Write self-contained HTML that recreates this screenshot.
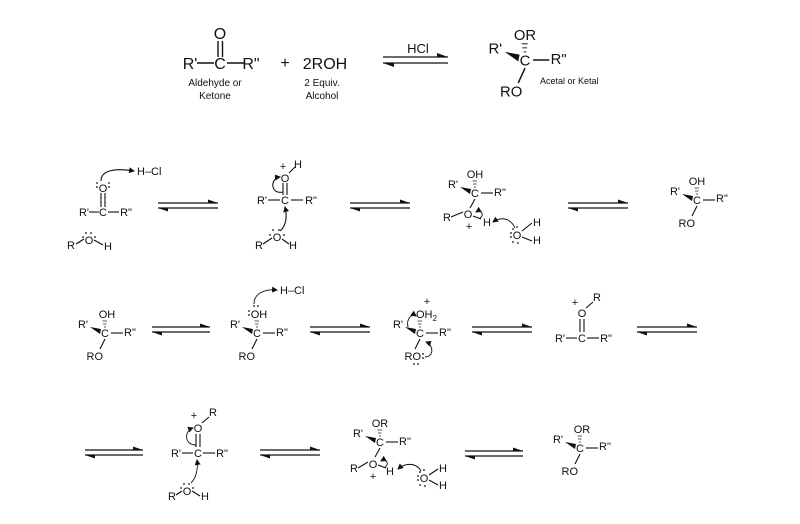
<!DOCTYPE html>
<html><head><meta charset="utf-8"><style>
html,body{margin:0;padding:0;background:#fff;}
svg{display:block;}
text{font-family:"Liberation Sans",sans-serif;fill:#111;}
</style></head><body>
<svg width="800" height="524" viewBox="0 0 800 524" xmlns="http://www.w3.org/2000/svg">
<defs>
<marker id="ah" markerWidth="6" markerHeight="6" refX="5" refY="3" orient="auto" markerUnits="userSpaceOnUse"><path d="M0,0 L6,3 L0,6 z" fill="#111"/></marker>
</defs>
<g stroke="#111" stroke-width="1.3" fill="none">
<line x1="383" y1="57" x2="448" y2="57"/><line x1="383" y1="63" x2="448" y2="63"/>
<line x1="158" y1="203" x2="218" y2="203"/><line x1="158" y1="208" x2="218" y2="208"/>
<line x1="350" y1="203" x2="410" y2="203"/><line x1="350" y1="208" x2="410" y2="208"/>
<line x1="568" y1="203" x2="628" y2="203"/><line x1="568" y1="208" x2="628" y2="208"/>
<line x1="152" y1="327" x2="210" y2="327"/><line x1="152" y1="332" x2="210" y2="332"/>
<line x1="310" y1="327" x2="370" y2="327"/><line x1="310" y1="332" x2="370" y2="332"/>
<line x1="472" y1="327" x2="532" y2="327"/><line x1="472" y1="332" x2="532" y2="332"/>
<line x1="637" y1="327" x2="697" y2="327"/><line x1="637" y1="332" x2="697" y2="332"/>
<line x1="85" y1="450" x2="143" y2="450"/><line x1="85" y1="455" x2="143" y2="455"/>
<line x1="260" y1="450" x2="320" y2="450"/><line x1="260" y1="455" x2="320" y2="455"/>
<line x1="465" y1="451" x2="523" y2="451"/><line x1="465" y1="456" x2="523" y2="456"/>
</g>
<g fill="#111">
<polygon points="448,57 437,57 437,53"/><polygon points="383,63 394,63 394,67"/>
<polygon points="218,203 208,203 208,199.5"/><polygon points="158,208 168,208 168,211.5"/>
<polygon points="410,203 400,203 400,199.5"/><polygon points="350,208 360,208 360,211.5"/>
<polygon points="628,203 618,203 618,199.5"/><polygon points="568,208 578,208 578,211.5"/>
<polygon points="210,327 200,327 200,323.5"/><polygon points="152,332 162,332 162,335.5"/>
<polygon points="370,327 360,327 360,323.5"/><polygon points="310,332 320,332 320,335.5"/>
<polygon points="532,327 522,327 522,323.5"/><polygon points="472,332 482,332 482,335.5"/>
<polygon points="697,327 687,327 687,323.5"/><polygon points="637,332 647,332 647,335.5"/>
<polygon points="143,450 133,450 133,446.5"/><polygon points="85,455 95,455 95,458.5"/>
<polygon points="320,450 310,450 310,446.5"/><polygon points="260,455 270,455 270,458.5"/>
<polygon points="523,451 513,451 513,447.5"/><polygon points="465,456 475,456 475,459.5"/>
</g>

<!-- Row 1 -->
<g font-size="16">
<text x="220" y="39" text-anchor="middle">O</text>
<text x="190" y="69" text-anchor="middle">R'</text>
<text x="220" y="69" text-anchor="middle">C</text>
<text x="251" y="69" text-anchor="middle">R"</text>
<text x="285" y="68" text-anchor="middle">+</text>
<text x="325" y="69" text-anchor="middle">2ROH</text>
<text x="418" y="53" text-anchor="middle" font-size="13">HCl</text>
</g>
<g stroke="#111" stroke-width="1.4">
<line x1="218" y1="41" x2="218" y2="57"/><line x1="222.5" y1="41" x2="222.5" y2="57"/>
<line x1="197" y1="63" x2="214" y2="63"/><line x1="227" y1="63" x2="244" y2="63"/>
</g>
<g font-size="10" text-anchor="middle">
<text x="215" y="86">Aldehyde or</text><text x="215" y="99">Ketone</text>
<text x="322" y="86">2 Equiv.</text><text x="322" y="99">Alcohol</text>
</g>
<g transform="translate(525,60) scale(1.35)">
<text x="0" y="4" text-anchor="middle" font-size="11">C</text>
<polygon points="-15,-6 -4,-4 -5,1" fill="#111"/>
<text x="-17" y="-5" text-anchor="end" font-size="11">R'</text>
<line x1="6" y1="0" x2="18" y2="0" stroke="#111" stroke-width="1.1"/>
<text x="19" y="3" font-size="11">R"</text>
<g stroke="#111" stroke-width="0.7"><line x1="-1" y1="-6" x2="1" y2="-6"/><line x1="-2" y1="-9" x2="1.5" y2="-9"/><line x1="-2.5" y1="-12" x2="2" y2="-12"/></g>
<text x="0" y="-15" text-anchor="middle" font-size="11">OR</text>
<line x1="0" y1="6" x2="-5" y2="17" stroke="#111" stroke-width="1.1"/>
<text x="-2" y="27" text-anchor="end" font-size="11">RO</text>
</g>
<text x="540" y="84" font-size="9">Acetal or Ketal</text>

<!-- Row 2 #1 -->
<g font-size="11">
<text x="103" y="192" text-anchor="middle">O</text>
<text x="103" y="216" text-anchor="middle">C</text>
<text x="84" y="216" text-anchor="middle">R'</text>
<text x="126" y="216" text-anchor="middle">R"</text>
<text x="137" y="175">H–Cl</text>
<text x="71" y="249" text-anchor="middle">R</text>
<text x="89" y="244" text-anchor="middle">O</text>
<text x="108" y="250" text-anchor="middle">H</text>
</g>
<g stroke="#111" stroke-width="1.1" fill="none">
<line x1="101" y1="193" x2="101" y2="207"/><line x1="105" y1="193" x2="105" y2="207"/>
<line x1="89" y1="212" x2="99" y2="212"/><line x1="108" y1="212" x2="119" y2="212"/>
<line x1="76" y1="244" x2="84" y2="239"/><line x1="94" y1="240" x2="103" y2="245"/>
<path d="M101,181 C101,170 115,168 134,171" marker-end="url(#ah)"/>
</g>
<g fill="#111">
<circle cx="97" cy="183" r="0.9"/><circle cx="97" cy="187" r="0.9"/><circle cx="109" cy="183" r="0.9"/><circle cx="109" cy="187" r="0.9"/>
<circle cx="86" cy="233" r="0.9"/><circle cx="91" cy="233" r="0.9"/><circle cx="83" cy="237" r="0.9"/><circle cx="95" cy="237" r="0.9"/>
</g>

<!-- Row 2 #2 -->
<g font-size="11">
<text x="285" y="182" text-anchor="middle">O</text>
<text x="283" y="170" text-anchor="middle">+</text>
<text x="298" y="168" text-anchor="middle">H</text>
<text x="285" y="204" text-anchor="middle">C</text>
<text x="262" y="204" text-anchor="middle">R'</text>
<text x="311" y="204" text-anchor="middle">R"</text>
<text x="259" y="249" text-anchor="middle">R</text>
<text x="277" y="241" text-anchor="middle">O</text>
<text x="293" y="249" text-anchor="middle">H</text>
</g>
<g stroke="#111" stroke-width="1.1" fill="none">
<line x1="283" y1="183" x2="283" y2="195"/><line x1="287" y1="183" x2="287" y2="195"/>
<line x1="268" y1="200" x2="280" y2="200"/><line x1="291" y1="200" x2="303" y2="200"/>
<line x1="289" y1="173" x2="295" y2="167"/>
<line x1="263" y1="244" x2="272" y2="238"/><line x1="282" y1="239" x2="289" y2="244"/>
<path d="M283,192 C270,195 270,178 280,177" marker-end="url(#ah)"/>
<path d="M280,231 C287,225 287,215 285,207" marker-end="url(#ah)"/>
</g>
<g fill="#111"><circle cx="273" cy="230" r="0.9"/><circle cx="279" cy="230" r="0.9"/><circle cx="270" cy="235" r="0.9"/><circle cx="284" cy="235" r="0.9"/></g>

<!-- Row2 #3 -->
<g transform="translate(475,193)" font-size="11">
<text x="0" y="4" text-anchor="middle">C</text>
<polygon points="-15,-6 -4,-4 -5,1" fill="#111"/>
<text x="-17" y="-5" text-anchor="end">R'</text>
<line x1="6" y1="0" x2="18" y2="0" stroke="#111" stroke-width="1.1"/>
<text x="19" y="3">R"</text>
<g stroke="#111" stroke-width="0.7"><line x1="-1" y1="-6" x2="1" y2="-6"/><line x1="-2" y1="-9" x2="1.5" y2="-9"/><line x1="-2.5" y1="-12" x2="2" y2="-12"/></g>
<text x="0" y="-15" text-anchor="middle">OH</text>
<line x1="0" y1="6" x2="-5" y2="15" stroke="#111" stroke-width="1.1"/>
<text x="-7" y="25" text-anchor="middle">O</text>
<text x="-28" y="28" text-anchor="middle">R</text>
<line x1="-24" y1="24" x2="-12" y2="19" stroke="#111" stroke-width="1.1"/>
<text x="-6" y="37" text-anchor="middle">+</text>
<line x1="-2" y1="23" x2="6" y2="26" stroke="#111" stroke-width="1.1"/>
<text x="12" y="33" text-anchor="middle">H</text>
<path d="M5,25 C10,22 6,16 1,19" stroke="#111" stroke-width="0.9" fill="none" marker-end="url(#ah)"/>
<text x="42" y="46" text-anchor="middle">O</text>
<text x="62" y="33" text-anchor="middle">H</text>
<text x="62" y="51" text-anchor="middle">H</text>
<line x1="47" y1="38" x2="57" y2="30" stroke="#111" stroke-width="1.1"/>
<line x1="47" y1="44" x2="57" y2="48" stroke="#111" stroke-width="1.1"/>
<path d="M40,35 C35,24 25,24 18,29" stroke="#111" stroke-width="0.9" fill="none" marker-end="url(#ah)"/>
<g fill="#111"><circle cx="38" cy="36" r="0.9"/><circle cx="42" cy="34" r="0.9"/><circle cx="36" cy="40" r="0.9"/><circle cx="36" cy="44" r="0.9"/><circle cx="38" cy="49" r="0.9"/><circle cx="43" cy="50" r="0.9"/></g>
</g>

<!-- Row2 #4 -->
<g transform="translate(697,200)" font-size="11">
<text x="0" y="4" text-anchor="middle">C</text>
<polygon points="-15,-6 -4,-4 -5,1" fill="#111"/>
<text x="-17" y="-5" text-anchor="end">R'</text>
<line x1="6" y1="0" x2="18" y2="0" stroke="#111" stroke-width="1.1"/>
<text x="19" y="2">R"</text>
<g stroke="#111" stroke-width="0.7"><line x1="-1" y1="-6" x2="1" y2="-6"/><line x1="-2" y1="-9" x2="1.5" y2="-9"/><line x1="-2.5" y1="-12" x2="2" y2="-12"/></g>
<text x="0" y="-15" text-anchor="middle">OH</text>
<line x1="0" y1="6" x2="-5" y2="16" stroke="#111" stroke-width="1.1"/>
<text x="-2" y="27" text-anchor="end">RO</text>
</g>

<!-- Row3 #1 -->
<g transform="translate(105,333)" font-size="11">
<text x="0" y="4" text-anchor="middle">C</text>
<polygon points="-15,-6 -4,-4 -5,1" fill="#111"/>
<text x="-17" y="-5" text-anchor="end">R'</text>
<line x1="6" y1="0" x2="18" y2="0" stroke="#111" stroke-width="1.1"/>
<text x="19" y="3">R"</text>
<g stroke="#111" stroke-width="0.7"><line x1="-1" y1="-6" x2="1" y2="-6"/><line x1="-2" y1="-9" x2="1.5" y2="-9"/><line x1="-2.5" y1="-12" x2="2" y2="-12"/></g>
<text x="2" y="-15" text-anchor="middle">OH</text>
<line x1="0" y1="6" x2="-5" y2="16" stroke="#111" stroke-width="1.1"/>
<text x="-2" y="27" text-anchor="end">RO</text>
</g>

<!-- Row3 #2 -->
<g transform="translate(257,333)" font-size="11">
<text x="0" y="4" text-anchor="middle">C</text>
<polygon points="-15,-6 -4,-4 -5,1" fill="#111"/>
<text x="-17" y="-5" text-anchor="end">R'</text>
<line x1="6" y1="0" x2="18" y2="0" stroke="#111" stroke-width="1.1"/>
<text x="19" y="3">R"</text>
<g stroke="#111" stroke-width="0.7"><line x1="-1" y1="-6" x2="1" y2="-6"/><line x1="-2" y1="-9" x2="1.5" y2="-9"/><line x1="-2.5" y1="-12" x2="2" y2="-12"/></g>
<text x="2" y="-15" text-anchor="middle">OH</text>
<g fill="#111"><circle cx="-8" cy="-22" r="0.9"/><circle cx="-8" cy="-18" r="0.9"/><circle cx="-3" cy="-27" r="0.9"/><circle cx="1" cy="-27" r="0.9"/></g>
<line x1="0" y1="6" x2="-5" y2="16" stroke="#111" stroke-width="1.1"/>
<text x="-2" y="27" text-anchor="end">RO</text>
<text x="23" y="-39">H–Cl</text>
<path d="M-3,-29 C-3,-40 8,-44 20,-43" stroke="#111" stroke-width="0.9" fill="none" marker-end="url(#ah)"/>
</g>

<!-- Row3 #3 -->
<g transform="translate(420,333)" font-size="11">
<text x="0" y="4" text-anchor="middle">C</text>
<polygon points="-15,-6 -4,-4 -5,1" fill="#111"/>
<text x="-17" y="-5" text-anchor="end">R'</text>
<line x1="6" y1="0" x2="18" y2="0" stroke="#111" stroke-width="1.1"/>
<text x="19" y="3">R"</text>
<g stroke="#111" stroke-width="0.7"><line x1="-1" y1="-6" x2="1" y2="-6"/><line x1="-2" y1="-9" x2="1.5" y2="-9"/><line x1="-2.5" y1="-12" x2="2" y2="-12"/></g>
<text x="-4" y="-15">OH<tspan font-size="8" dy="3">2</tspan></text>
<text x="7" y="-28" text-anchor="middle">+</text>
<path d="M-12,-6 C-14,-14 -8,-20 -4,-17" stroke="#111" stroke-width="0.9" fill="none" marker-end="url(#ah)"/>
<line x1="0" y1="6" x2="-5" y2="16" stroke="#111" stroke-width="1.1"/>
<text x="1" y="27" text-anchor="end">RO</text>
<g fill="#111"><circle cx="3" cy="21" r="0.9"/><circle cx="3" cy="25" r="0.9"/><circle cx="-6" cy="31" r="0.9"/><circle cx="-2" cy="31" r="0.9"/></g>
<path d="M5,24 C14,24 14,12 6,9" stroke="#111" stroke-width="0.9" fill="none" marker-end="url(#ah)"/>
</g>

<!-- Row3 #4 -->
<g transform="translate(582,338)" font-size="11">
<text x="0" y="4" text-anchor="middle">C</text>
<text x="-22" y="4" text-anchor="middle">R'</text>
<text x="24" y="4" text-anchor="middle">R"</text>
<line x1="-16" y1="0" x2="-5" y2="0" stroke="#111" stroke-width="1.1"/>
<line x1="5" y1="0" x2="17" y2="0" stroke="#111" stroke-width="1.1"/>
<text x="0" y="-21" text-anchor="middle">O</text>
<line x1="-2" y1="-19" x2="-2" y2="-6" stroke="#111" stroke-width="1.1"/><line x1="2" y1="-19" x2="2" y2="-6" stroke="#111" stroke-width="1.1"/>
<text x="-7" y="-32" text-anchor="middle">+</text>
<line x1="4" y1="-30" x2="11" y2="-36" stroke="#111" stroke-width="1.1"/>
<text x="15" y="-37" text-anchor="middle">R</text>
</g>

<!-- Row4 #1 -->
<g transform="translate(198,453)" font-size="11">
<text x="0" y="4" text-anchor="middle">C</text>
<text x="-22" y="4" text-anchor="middle">R'</text>
<text x="24" y="4" text-anchor="middle">R"</text>
<line x1="-16" y1="0" x2="-5" y2="0" stroke="#111" stroke-width="1.1"/>
<line x1="5" y1="0" x2="17" y2="0" stroke="#111" stroke-width="1.1"/>
<text x="0" y="-21" text-anchor="middle">O</text>
<line x1="-2" y1="-19" x2="-2" y2="-6" stroke="#111" stroke-width="1.1"/><line x1="2" y1="-19" x2="2" y2="-6" stroke="#111" stroke-width="1.1"/>
<text x="-4" y="-34" text-anchor="middle">+</text>
<line x1="4" y1="-30" x2="11" y2="-36" stroke="#111" stroke-width="1.1"/>
<text x="15" y="-37" text-anchor="middle">R</text>
<path d="M-2,-8 C-14,-8 -14,-22 -5,-25" stroke="#111" stroke-width="0.9" fill="none" marker-end="url(#ah)"/>
<text x="-11" y="42" text-anchor="middle">O</text>
<text x="-26" y="47" text-anchor="middle">R</text>
<text x="7" y="47" text-anchor="middle">H</text>
<line x1="-22" y1="42" x2="-16" y2="38" stroke="#111" stroke-width="1.1"/>
<line x1="-6" y1="38" x2="2" y2="43" stroke="#111" stroke-width="1.1"/>
<g fill="#111"><circle cx="-14" cy="31" r="0.9"/><circle cx="-9" cy="31" r="0.9"/><circle cx="-17" cy="35" r="0.9"/><circle cx="-5" cy="35" r="0.9"/></g>
<path d="M-7,30 C-1,24 0,14 -1,7" stroke="#111" stroke-width="0.9" fill="none" marker-end="url(#ah)"/>
</g>

<!-- Row4 #2 -->
<g transform="translate(380,442)" font-size="11">
<text x="0" y="4" text-anchor="middle">C</text>
<polygon points="-15,-6 -4,-4 -5,1" fill="#111"/>
<text x="-17" y="-5" text-anchor="end">R'</text>
<line x1="6" y1="0" x2="18" y2="0" stroke="#111" stroke-width="1.1"/>
<text x="19" y="3">R"</text>
<g stroke="#111" stroke-width="0.7"><line x1="-1" y1="-6" x2="1" y2="-6"/><line x1="-2" y1="-9" x2="1.5" y2="-9"/><line x1="-2.5" y1="-12" x2="2" y2="-12"/></g>
<text x="0" y="-15" text-anchor="middle">OR</text>
<line x1="0" y1="6" x2="-5" y2="15" stroke="#111" stroke-width="1.1"/>
<text x="-7" y="26" text-anchor="middle">O</text>
<text x="-26" y="30" text-anchor="middle">R</text>
<line x1="-22" y1="26" x2="-12" y2="20" stroke="#111" stroke-width="1.1"/>
<text x="-7" y="38" text-anchor="middle">+</text>
<line x1="-2" y1="23" x2="6" y2="26" stroke="#111" stroke-width="1.1"/>
<text x="10" y="33" text-anchor="middle">H</text>
<path d="M5,25 C10,22 6,16 1,19" stroke="#111" stroke-width="0.9" fill="none" marker-end="url(#ah)"/>
<text x="44" y="40" text-anchor="middle">O</text>
<text x="63" y="30" text-anchor="middle">H</text>
<text x="63" y="47" text-anchor="middle">H</text>
<line x1="49" y1="33" x2="58" y2="27" stroke="#111" stroke-width="1.1"/>
<line x1="49" y1="38" x2="58" y2="43" stroke="#111" stroke-width="1.1"/>
<path d="M41,29 C36,20 25,21 18,27" stroke="#111" stroke-width="0.9" fill="none" marker-end="url(#ah)"/>
<g fill="#111"><circle cx="40" cy="30" r="0.9"/><circle cx="44" cy="28" r="0.9"/><circle cx="38" cy="34" r="0.9"/><circle cx="38" cy="38" r="0.9"/><circle cx="40" cy="43" r="0.9"/><circle cx="45" cy="44" r="0.9"/></g>
</g>

<!-- Row4 #3 -->
<g transform="translate(580,448)" font-size="11">
<text x="0" y="4" text-anchor="middle">C</text>
<polygon points="-15,-6 -4,-4 -5,1" fill="#111"/>
<text x="-17" y="-5" text-anchor="end">R'</text>
<line x1="6" y1="0" x2="18" y2="0" stroke="#111" stroke-width="1.1"/>
<text x="19" y="2">R"</text>
<g stroke="#111" stroke-width="0.7"><line x1="-1" y1="-6" x2="1" y2="-6"/><line x1="-2" y1="-9" x2="1.5" y2="-9"/><line x1="-2.5" y1="-12" x2="2" y2="-12"/></g>
<text x="2" y="-15" text-anchor="middle">OR</text>
<line x1="0" y1="6" x2="-5" y2="16" stroke="#111" stroke-width="1.1"/>
<text x="-2" y="27" text-anchor="end">RO</text>
</g>
</svg>
</body></html>
